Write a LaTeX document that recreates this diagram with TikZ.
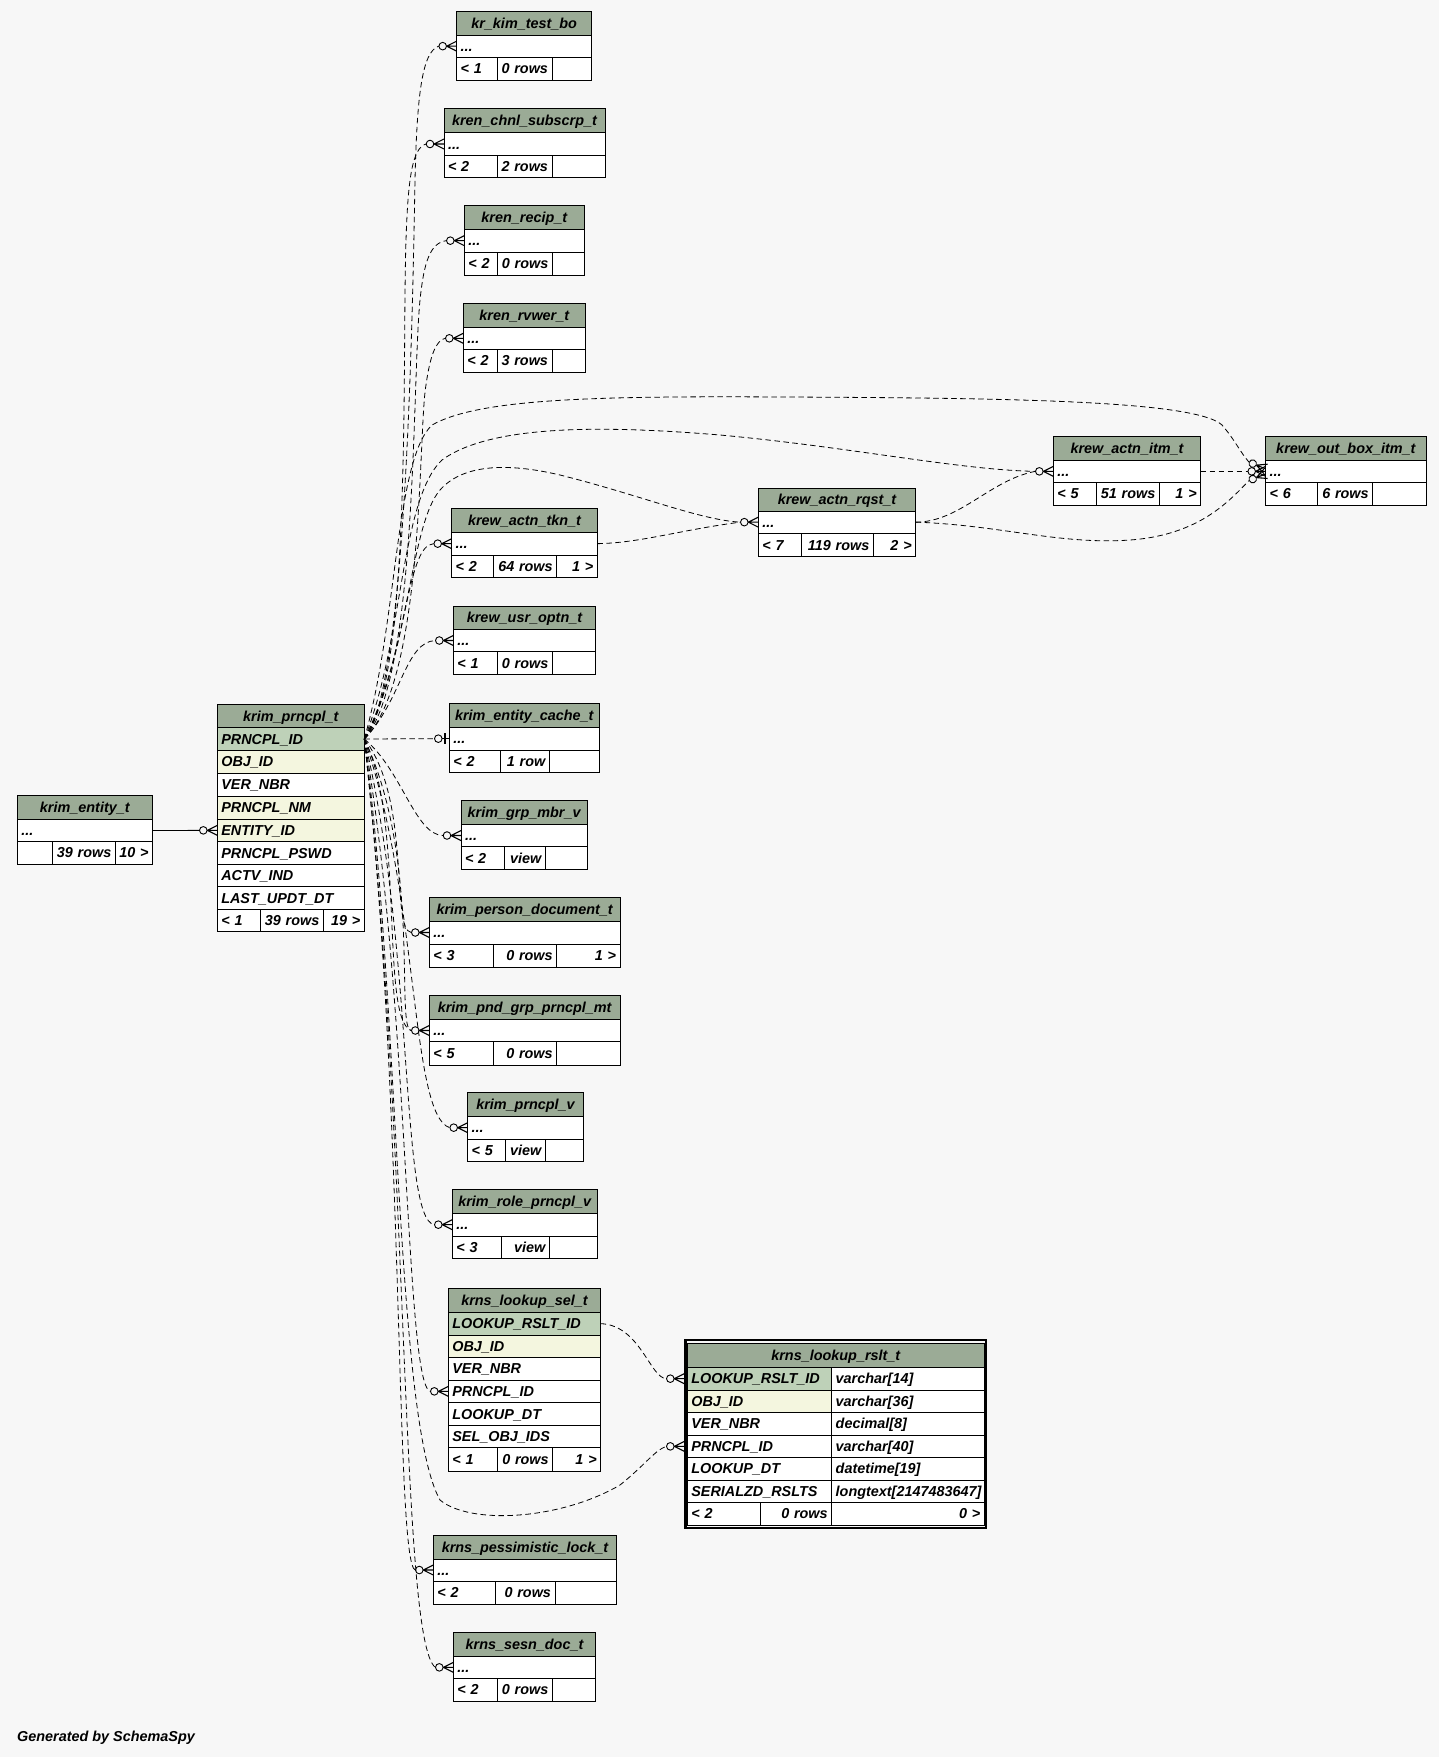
\documentclass[tikz,border=0pt]{standalone}
\usepackage{fontspec}
\setmainfont{Liberation Sans}
\usetikzlibrary{calc}
\definecolor{bgc}{HTML}{F7F7F7}
\definecolor{hdr}{HTML}{9BAB96}
\definecolor{pkc}{HTML}{BED1B8}
\definecolor{idx}{HTML}{F4F6DF}
\tikzset{
  cell/.style={draw=black, line width=0.9pt, inner xsep=4pt, inner ysep=0pt,
    text height=10.2pt, text depth=0pt, outer sep=0pt,
    font=\fontsize{14.4}{16}\selectfont\bfseries\itshape},
  fk/.style={draw=black, line width=0.8pt, dash pattern=on 5.5pt off 3.5pt},
  rel/.style={draw=black, line width=0.8pt},
  crowodot/.pic={
    \draw[line width=1.1pt] (-10,0) -- (0,5) (-10,0) -- (0,0) (-10,0) -- (0,-5);
    \draw[line width=0.9pt] (-14,0) circle[radius=3.8pt];},
  teeodot/.pic={
    \draw[line width=0.8pt] (-7.2,0) -- (0,0);
    \draw[line width=1.8pt] (-4.5,-5.5) -- (-4.5,5.5);
    \draw[line width=0.9pt] (-11,0) circle[radius=3.8pt];}
}
\newcommand{\cellnode}[8]{%
  \pgfmathsetmacro{\cellW}{#4-#2}%
  \pgfmathsetmacro{\cellH}{#5-#3}%
  \pgfmathsetmacro{\cellT}{#4-#2-8}%
  \pgfmathsetmacro{\cellX}{(#2+#4)/2}%
  \pgfmathsetmacro{\cellY}{(#3+#5)/2}%
  \node[cell, fill=#6, minimum width=\cellW pt, minimum height=\cellH pt,
        text width=\cellT pt, align=#7] (#1) at (\cellX,\cellY) {\mbox{#8}};}
\def\parseTX#1,#2,#3,#4\relax{\def\tXa{#1}\def\tXb{#2}\def\tXc{#3}\def\tXd{#4}}
\def\parseTY#1,#2,#3,#4\relax{\def\tYa{#1}\def\tYb{#2}\def\tYc{#3}\def\tYd{#4}}
\newcommand{\smalltab}[7]{%
  \parseTX#2\relax\parseTY#3\relax
  \cellnode{#1}{\tXa}{\tYa}{\tXd}{\tYb}{hdr}{center}{#4}
  \cellnode{#1-r}{\tXa}{\tYb}{\tXd}{\tYc}{white}{left}{...}
  \cellnode{#1-f1}{\tXa}{\tYc}{\tXb}{\tYd}{white}{left}{#5}
  \cellnode{#1-f2}{\tXb}{\tYc}{\tXc}{\tYd}{white}{right}{#6}
  \cellnode{#1-f3}{\tXc}{\tYc}{\tXd}{\tYd}{white}{right}{#7}}
\begin{document}
\begin{tikzpicture}[x=1pt,y=-1pt]
\path[use as bounding box, fill=bgc] (0,0) rectangle (1439,1757);

% ---------- small tables ----------
\smalltab{kimtest}{456.7,497,552,591.7}{11.7,35,57.3,80}{kr\_kim\_test\_bo}{< 1}{0 rows}{}
\smalltab{chnl}{444,497,552,605}{108.3,132.7,155.3,177.7}{kren\_chnl\_subscrp\_t}{< 2}{2 rows}{}
\smalltab{recip}{464.3,497.3,552.3,584.3}{205.7,229.3,252,275}{kren\_recip\_t}{< 2}{0 rows}{}
\smalltab{rvwer}{463.3,497,552,585.3}{303.7,327.3,349.3,372}{kren\_rvwer\_t}{< 2}{3 rows}{}
\smalltab{tkn}{451.7,493.3,556.7,597.3}{508.3,532.3,555,577.3}{krew\_actn\_tkn\_t}{< 2}{64 rows}{1 >}
\smalltab{usr}{453.3,497.3,552.3,595.7}{606,629.3,651.7,674.3}{krew\_usr\_optn\_t}{< 1}{0 rows}{}
\smalltab{cache}{449.3,500.3,549.3,599.3}{703.3,727.3,750,772.3}{krim\_entity\_cache\_t}{< 2}{1 row}{}
\smalltab{grp}{461,504.3,545.3,587.3}{800.7,824.3,846.7,869.3}{krim\_grp\_mbr\_v}{< 2}{view}{}
\smalltab{pdoc}{429.3,493.3,556.7,620}{897.3,921,944,967.3}{krim\_person\_document\_t}{< 3}{0 rows}{1 >}
\smalltab{pnd}{429.3,493.3,556.7,620}{995.7,1019.3,1041.7,1065}{krim\_pnd\_grp\_prncpl\_mt}{< 5}{0 rows}{}
\smalltab{pv}{467.7,505.3,545.3,583.3}{1092.3,1116,1139.3,1161}{krim\_prncpl\_v}{< 5}{view}{}
\smalltab{rpv}{452.3,501,549.3,597.3}{1189.3,1213.3,1236,1258.7}{krim\_role\_prncpl\_v}{< 3}{view}{}
\smalltab{lock}{433.3,495.7,555,616.7}{1535,1559,1581,1604}{krns\_pessimistic\_lock\_t}{< 2}{0 rows}{}
\smalltab{sesn}{453.3,497.3,552.3,595.7}{1632.3,1656,1678.7,1701}{krns\_sesn\_doc\_t}{< 2}{0 rows}{}
\smalltab{entity}{17.3,52.3,115.3,152.3}{795.3,819.3,841.7,864}{krim\_entity\_t}{}{39 rows}{10 >}
\smalltab{rqst}{758.3,801.7,873.3,915.7}{488.3,511,533.3,556.7}{krew\_actn\_rqst\_t}{< 7}{119 rows}{2 >}
\smalltab{itm}{1053.3,1096,1159.3,1200.7}{436,460,482.7,505}{krew\_actn\_itm\_t}{< 5}{51 rows}{1 >}
\smalltab{obox}{1265.7,1317.7,1372.7,1426}{436,460,482.7,505}{krew\_out\_box\_itm\_t}{< 6}{6 rows}{}

% ---------- krim_prncpl_t ----------
\cellnode{prncpl}{217.3}{704.3}{364.3}{727.7}{hdr}{center}{krim\_prncpl\_t}
\cellnode{prncpl-pk}{217.3}{727.7}{364.3}{750.3}{pkc}{left}{PRNCPL\_ID}
\cellnode{prncpl-obj}{217.3}{750.3}{364.3}{773}{idx}{left}{OBJ\_ID}
\cellnode{prncpl-ver}{217.3}{773}{364.3}{796.3}{white}{left}{VER\_NBR}
\cellnode{prncpl-nm}{217.3}{796.3}{364.3}{819}{idx}{left}{PRNCPL\_NM}
\cellnode{prncpl-ent}{217.3}{819}{364.3}{841.7}{idx}{left}{ENTITY\_ID}
\cellnode{prncpl-pswd}{217.3}{841.7}{364.3}{864.3}{white}{left}{PRNCPL\_PSWD}
\cellnode{prncpl-actv}{217.3}{864.3}{364.3}{886.7}{white}{left}{ACTV\_IND}
\cellnode{prncpl-updt}{217.3}{886.7}{364.3}{909.7}{white}{left}{LAST\_UPDT\_DT}
\cellnode{prncpl-f1}{217.3}{909.7}{260}{931.7}{white}{left}{< 1}
\cellnode{prncpl-f2}{260}{909.7}{323.3}{931.7}{white}{right}{39 rows}
\cellnode{prncpl-f3}{323.3}{909.7}{364.3}{931.7}{white}{right}{19 >}

% ---------- krns_lookup_sel_t ----------
\cellnode{sel}{448.3}{1288.3}{600.7}{1312.3}{hdr}{center}{krns\_lookup\_sel\_t}
\cellnode{sel-pk}{448.3}{1312.3}{600.7}{1335}{pkc}{left}{LOOKUP\_RSLT\_ID}
\cellnode{sel-obj}{448.3}{1335}{600.7}{1357.3}{idx}{left}{OBJ\_ID}
\cellnode{sel-ver}{448.3}{1357.3}{600.7}{1380}{white}{left}{VER\_NBR}
\cellnode{sel-pid}{448.3}{1380}{600.7}{1402.7}{white}{left}{PRNCPL\_ID}
\cellnode{sel-dt}{448.3}{1402.7}{600.7}{1425.3}{white}{left}{LOOKUP\_DT}
\cellnode{sel-ids}{448.3}{1425.3}{600.7}{1447.7}{white}{left}{SEL\_OBJ\_IDS}
\cellnode{sel-f1}{448.3}{1447.7}{497.3}{1471}{white}{left}{< 1}
\cellnode{sel-f2}{497.3}{1447.7}{552.7}{1471}{white}{right}{0 rows}
\cellnode{sel-f3}{552.7}{1447.7}{600.7}{1471}{white}{right}{1 >}

% ---------- krns_lookup_rslt_t ----------
\draw[line width=2.4pt] (685.4,1340.2) rectangle (986.2,1527.8);
\cellnode{rslt}{687.3}{1343.3}{984.3}{1367.3}{hdr}{center}{krns\_lookup\_rslt\_t}
\cellnode{rslt-pk}{687.3}{1367.3}{831.7}{1390}{pkc}{left}{LOOKUP\_RSLT\_ID}
\cellnode{rslt-pkt}{831.7}{1367.3}{984.3}{1390}{white}{left}{varchar[14]}
\cellnode{rslt-obj}{687.3}{1390}{831.7}{1412.3}{idx}{left}{OBJ\_ID}
\cellnode{rslt-objt}{831.7}{1390}{984.3}{1412.3}{white}{left}{varchar[36]}
\cellnode{rslt-ver}{687.3}{1412.3}{831.7}{1435}{white}{left}{VER\_NBR}
\cellnode{rslt-vert}{831.7}{1412.3}{984.3}{1435}{white}{left}{decimal[8]}
\cellnode{rslt-pid}{687.3}{1435}{831.7}{1457.7}{white}{left}{PRNCPL\_ID}
\cellnode{rslt-pidt}{831.7}{1435}{984.3}{1457.7}{white}{left}{varchar[40]}
\cellnode{rslt-dt}{687.3}{1457.7}{831.7}{1480}{white}{left}{LOOKUP\_DT}
\cellnode{rslt-dtt}{831.7}{1457.7}{984.3}{1480}{white}{left}{datetime[19]}
\cellnode{rslt-ser}{687.3}{1480}{831.7}{1502.7}{white}{left}{SERIALZD\_RSLTS}
\cellnode{rslt-sert}{831.7}{1480}{984.3}{1502.7}{white}{left}{longtext[2147483647]}
\cellnode{rslt-f1}{687.3}{1502.7}{760.3}{1525}{white}{left}{< 2}
\cellnode{rslt-f2}{760.3}{1502.7}{831.7}{1525}{white}{right}{0 rows}
\cellnode{rslt-f3}{831.7}{1502.7}{984.3}{1525}{white}{right}{0 >}

\node[font=\fontsize{14.4}{16}\selectfont\bfseries\itshape, anchor=west, inner sep=0pt] (gen) at (17,1738) {Generated by SchemaSpy};

% ---------- connectors ----------
\draw[rel] (entity-r.east) -- ([xshift=-18pt]prncpl-ent.west);

\draw[fk] (prncpl-pk.east) .. controls (405,690) and (412,350) .. (415,180) .. controls (417,95) and (422,52) .. ([xshift=-18pt]kimtest-r.west);
\draw[fk] (prncpl-pk.east) .. controls (412,680) and (402,360) .. (406,240) .. controls (408,180) and (412,148) .. ([xshift=-18pt]chnl-r.west);
\draw[fk] (prncpl-pk.east) .. controls (418,680) and (412,380) .. (420,300) .. controls (424,262) and (430,243) .. ([xshift=-18pt]recip-r.west);
\draw[fk] (prncpl-pk.east) .. controls (425,680) and (418,430) .. (426,385) .. controls (430,356) and (436,340) .. ([xshift=-18pt]rvwer-r.west);

\draw[fk] (prncpl-pk.east) .. controls (398,620) and (395,460) .. (432,425) .. controls (480,398) and (600,396) .. (785,397) .. controls (1000,398) and (1195,400) .. (1222,425) .. controls (1235,440) and (1240,452) .. ([shift={(-16.7,-9.2)}]obox-r.west);
\draw[fk] (prncpl-pk.east) .. controls (404,640) and (400,500) .. (442,460) .. controls (490,425) and (600,425) .. (720,435) .. controls (850,447) and (960,470) .. ([xshift=-18pt]itm-r.west);
\draw[fk] (prncpl-pk.east) .. controls (410,650) and (410,525) .. (440,490) .. controls (462,465) and (505,462) .. (560,475) .. controls (640,495) and (700,520) .. ([xshift=-18pt]rqst-r.west);
\draw[fk] (tkn-r.east) .. controls (640,543) and (680,530) .. ([xshift=-18pt]rqst-r.west);
\draw[fk] (rqst-r.east) .. controls (960,522) and (990,480) .. ([xshift=-18pt]itm-r.west);
\draw[fk] (rqst-r.east) .. controls (1000,525) and (1060,545) .. (1130,540) .. controls (1200,535) and (1230,500) .. ([shift={(-16.7,9.2)}]obox-r.west);
\draw[fk] (itm-r.east) -- ([xshift=-18pt]obox-r.west);

\draw[fk] (prncpl-pk.east) .. controls (408,660) and (405,545) .. ([xshift=-18pt]tkn-r.west);
\draw[fk] (prncpl-pk.east) .. controls (402,700) and (405,642) .. ([xshift=-18pt]usr-r.west);
\draw[fk] (prncpl-pk.east) -- ([xshift=-15pt]cache-r.west);
\draw[fk] (prncpl-pk.east) .. controls (402,770) and (415,835) .. ([xshift=-18pt]grp-r.west);
\draw[fk] (prncpl-pk.east) .. controls (412,800) and (390,930) .. ([xshift=-18pt]pdoc-r.west);
\draw[fk] (prncpl-pk.east) .. controls (405,820) and (380,1020) .. ([xshift=-18pt]pnd-r.west);
\draw[fk] (prncpl-pk.east) .. controls (422,860) and (395,1030) .. ([xshift=-18pt]pnd-r.west);
\draw[fk] (prncpl-pk.east) .. controls (420,900) and (410,1115) .. ([xshift=-18pt]pv-r.west);
\draw[fk] (prncpl-pk.east) .. controls (415,950) and (400,1220) .. ([xshift=-18pt]rpv-r.west);
\draw[fk] (prncpl-pk.east) .. controls (410,1000) and (405,1385) .. ([xshift=-18pt]sel-pid.west);
\draw[fk] (prncpl-pk.east) .. controls (400,1000) and (395,1420) .. (440,1500) .. controls (470,1525) and (560,1520) .. (620,1485) .. controls (645,1465) and (655,1450) .. ([xshift=-21pt]rslt-pid.west);
\draw[fk] (prncpl-pk.east) .. controls (405,1100) and (395,1565) .. ([xshift=-18pt]lock-r.west);
\draw[fk] (prncpl-pk.east) .. controls (410,1150) and (400,1640) .. ([xshift=-18pt]sesn-r.west);
\draw[fk] (sel-pk.east) .. controls (640,1325) and (650,1378) .. ([xshift=-21pt]rslt-pk.west);

% ---------- markers ----------
\pic at (prncpl-ent.west) {crowodot};
\pic at (kimtest-r.west) {crowodot};
\pic at (chnl-r.west) {crowodot};
\pic at (recip-r.west) {crowodot};
\pic at (rvwer-r.west) {crowodot};
\pic at (tkn-r.west) {crowodot};
\pic at (usr-r.west) {crowodot};
\pic at (cache-r.west) {teeodot};
\pic at (grp-r.west) {crowodot};
\pic at (pdoc-r.west) {crowodot};
\pic at (pnd-r.west) {crowodot};
\pic at (pv-r.west) {crowodot};
\pic at (rpv-r.west) {crowodot};
\pic at (sel-pid.west) {crowodot};
\pic at (lock-r.west) {crowodot};
\pic at (sesn-r.west) {crowodot};
\pic at (rqst-r.west) {crowodot};
\pic at (itm-r.west) {crowodot};
\pic at (obox-r.west) {crowodot};
\pic[rotate=-22] at ([yshift=2.5pt]obox-r.west) {crowodot};
\pic[rotate=22] at ([yshift=-2.5pt]obox-r.west) {crowodot};
\pic at ([xshift=-3pt]rslt-pid.west) {crowodot};
\pic at ([xshift=-3pt]rslt-pk.west) {crowodot};
\end{tikzpicture}
\end{document}
